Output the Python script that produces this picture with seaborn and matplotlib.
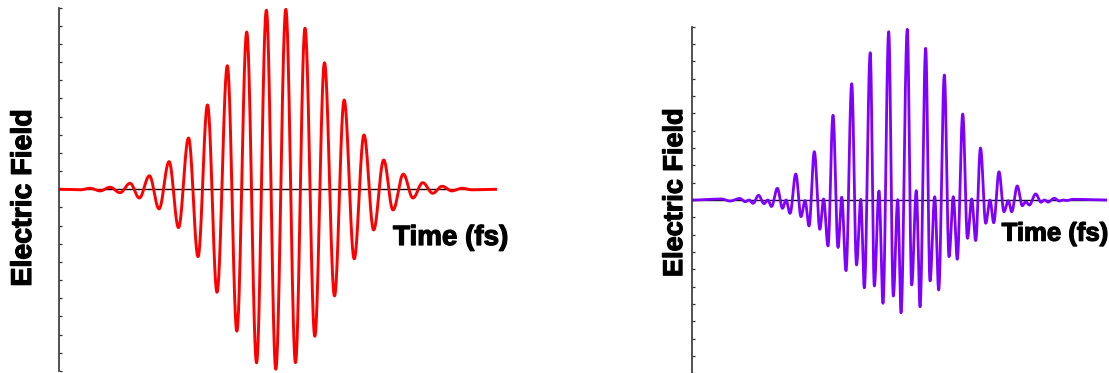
import numpy as np
import pandas as pd
import matplotlib
matplotlib.use("Agg")
import matplotlib.pyplot as plt
import matplotlib.patheffects as pe
import seaborn as sns

# Turning points (time in fs, normalised field) of the two pulses
red_time = [-29.80, -26.93, -25.59, -24.22, -22.84, -21.47, -20.09, -18.81, -17.43,
            -16.10, -14.72, -13.42, -12.04, -10.73, -9.43, -8.12, -6.70, -5.39,
            -4.03, -2.68, -1.33, -0.03, 1.35, 2.68, 3.99, 5.34, 6.67, 8.05, 9.38,
            10.76, 12.11, 13.44, 14.82, 16.10, 17.52, 18.85, 20.19, 21.56, 22.87,
            24.19, 25.59, 26.93, 30.37]
red_field = [0.0, -0.003, 0.0055, -0.009, 0.011, -0.019, 0.033, -0.048, 0.074,
             -0.108, 0.152, -0.211, 0.282, -0.371, 0.464, -0.567, 0.680, -0.781,
             0.865, -0.955, 0.985, -0.990, 0.990, -0.954, 0.886, -0.809, 0.696,
             -0.587, 0.491, -0.383, 0.299, -0.224, 0.161, -0.114, 0.083, -0.048,
             0.036, -0.022, 0.0165, -0.009, 0.0055, -0.003, 0.0]

violet_time = [-29.80, -25.58, -24.32, -22.91, -22.10, -21.56, -20.98, -20.18,
               -19.38, -18.83, -18.30, -17.45, -16.70, -16.19, -15.61, -14.77,
               -14.01, -13.43, -12.85, -12.08, -11.28, -10.74, -10.09, -9.37,
               -8.64, -8.10, -7.48, -6.65, -5.95, -5.34, -4.82, -3.96, -3.37,
               -2.69, -2.11, -1.28, -0.61, 0.03, 0.51, 1.42, 2.06, 2.73, 3.27,
               4.09, 4.72, 5.40, 5.98, 6.80, 7.48, 8.10, 8.68, 9.47, 10.16,
               10.77, 11.35, 12.05, 12.81, 13.43, 13.97, 14.74, 15.46, 16.09,
               16.58, 17.39, 18.12, 18.61, 19.14, 20.07, 20.84, 21.34, 21.85,
               22.77, 23.49, 24.03, 24.54, 25.48, 30.38]
violet_field = [0.0, 0.006, -0.006, 0.009, -0.010, 0.0, -0.019, 0.027, -0.021,
                0.0, -0.0375, 0.0675, -0.048, 0.0, -0.077, 0.150, -0.096, -0.003,
                -0.150, 0.279, -0.169, 0.006, -0.265, 0.489, -0.274, 0.016,
                -0.408, 0.671, -0.375, 0.004, -0.507, 0.850, -0.496, 0.052,
                -0.596, 0.971, -0.554, 0.002, -0.651, 0.985, -0.490, 0.054,
                -0.616, 0.875, -0.467, 0.019, -0.519, 0.721, -0.327, 0.019,
                -0.342, 0.496, -0.221, 0.006, -0.234, 0.300, -0.134, 0.0,
                -0.131, 0.163, -0.0675, -0.004, -0.0675, 0.081, -0.033, -0.010,
                -0.029, 0.035, -0.013, 0.0, -0.012, 0.010, -0.006, 0.0, -0.003,
                0.004, 0.0]

x_label = "Time (fs)"
y_label = "Electric Field"


def through_turning_points(t, e, n=30):
    """Join consecutive turning points with half-cosine arcs (zero slope at each point)."""
    ts, es = [], []
    for i in range(len(t) - 1):
        u = np.linspace(0.0, 1.0, n, endpoint=False)
        w = (1.0 - np.cos(np.pi * u)) / 2.0
        ts.append(t[i] + (t[i + 1] - t[i]) * u)
        es.append(e[i] + (e[i + 1] - e[i]) * w)
    ts.append([t[-1]])
    es.append([e[-1]])
    return pd.DataFrame({"time": np.concatenate(ts), "field": np.concatenate(es)})


sns.set_theme(style="white")
plt.rcParams["font.family"] = ["Liberation Sans", "DejaVu Sans"]

fig = plt.figure(figsize=(11.09, 3.73), dpi=100)

# heavier lettering for the axis titles
heavy = [pe.withStroke(linewidth=0.9, foreground="black")]

panels = [
    dict(rect=[0.05365, 0.00536, 0.3942, 0.9745], t=red_time, e=red_field,
         color="#ff0000", lw=2.1, ylab=(0.0216, 0.4692, 20.5),
         xlab=(0.3544, 0.3432, 20)),
    dict(rect=[0.62426, -0.0008, 0.37367, 0.9292], t=violet_time, e=violet_field,
         color="#8000ff", lw=2.0, ylab=(0.6087, 0.4834, 19.5),
         xlab=(0.9032, 0.3547, 18.5)),
]

for p in panels:
    ax = fig.add_axes(p["rect"])
    df = through_turning_points(p["t"], p["e"])
    ax.axhline(0.0, color="black", lw=1.0, zorder=1)
    sns.lineplot(data=df, x="time", y="field", color=p["color"], lw=p["lw"],
                 ax=ax, zorder=2, sort=False)
    ax.set_xlim(p["t"][0], p["t"][-1])
    ax.set_ylim(-1.0, 1.0)
    ax.set_yticks(np.round(np.arange(-1.0, 1.0001, 0.1), 2))
    ax.set_yticklabels([])
    ax.set_xticks([])
    ax.set_xlabel("")
    ax.set_ylabel("")
    for side in ["top", "right", "bottom"]:
        ax.spines[side].set_visible(False)
    ax.spines["left"].set_color("#333333")
    ax.spines["left"].set_linewidth(1.2)
    ax.tick_params(axis="y", direction="in", length=2.5, width=0.9,
                   color="#333333", left=True)
    ax.patch.set_alpha(0.0)

    yx, yy, ys = p["ylab"]
    fig.text(yx, yy, y_label, rotation=90, ha="center", va="center",
             fontsize=ys, fontweight="bold", color="black", path_effects=heavy)
    xx, xy, xs = p["xlab"]
    fig.text(xx, xy, x_label, ha="left", va="baseline",
             fontsize=xs, fontweight="bold", color="black", path_effects=heavy)

fig.savefig("out.png", dpi=100)
